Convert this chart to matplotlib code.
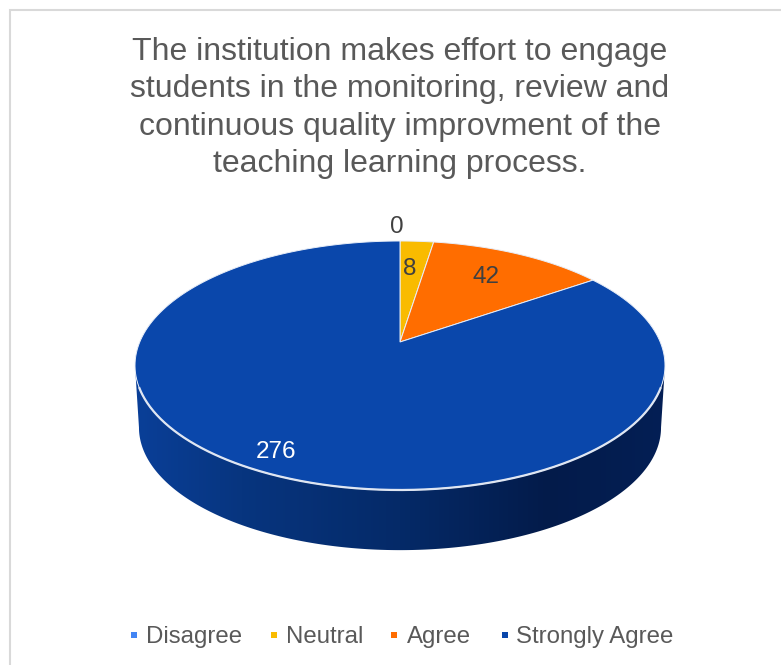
import numpy as np
import matplotlib
matplotlib.use('Agg')
import matplotlib.pyplot as plt
from matplotlib.patches import Polygon, Rectangle
from matplotlib.colors import LinearSegmentedColormap

plt.rcParams['font.family'] = ['Liberation Sans', 'DejaVu Sans']

title = 'The institution makes effort to engage\nstudents in the monitoring, review and\ncontinuous quality improvment of the\nteaching learning process.'
categories = ['Disagree', 'Neutral', 'Agree', 'Strongly Agree']
values = [0, 8, 42, 276]
colors = ['#4285f4', '#f9bb00', '#ff6d00', '#0a47ab']
label_colors = ['#404040', '#404040', '#404040', '#ffffff']

# pie geometry in pixels, the disc is tilted so the apex sits above the ellipse centre
W, H = 781, 665
cx, apex_y = 400, 342
back, front = 101, 148
half_w = 265
depth = 62
k = (front - back) / (front + back)
b0 = back * (1 + k)
a0 = half_w * np.sqrt(1 - k ** 2)


def project(ang):
    # ang is clockwise from 12 o'clock, on the unit disc
    X, Y = np.sin(ang), np.cos(ang)
    d = 1 + k * Y
    return cx + a0 * X / d, apex_y - b0 * Y / d


def wedge(a1, a2):
    t = np.linspace(a1, a2, 200)
    x, y = project(t)
    return np.column_stack([np.r_[cx, x], np.r_[apex_y, y]])


fig = plt.figure(figsize=(W / 100, H / 100), dpi=100)
ax = fig.add_axes([0, 0, 1, 1])
ax.set_xlim(0, W)
ax.set_ylim(H, 0)
ax.axis('off')

ax.add_patch(Rectangle((10, 10), W + 20, H + 20, fc='white', ec='#d9d9d9', lw=1.5))

# side wall: front arc of the top face and the same arc moved down
t = np.linspace(0, 2 * np.pi, 721)
ex, ey = project(t)
ell_cy = (ey.min() + ey.max()) / 2
s = 0.985

tt = np.linspace(-np.pi / 2, np.pi / 2, 361)
ux = cx + half_w * np.sin(tt)
uy = ell_cy + (back + front) / 2 * np.cos(tt)
dx = cx + half_w * s * np.sin(tt)
dy = ell_cy + depth + (back + front) / 2 * s * np.cos(tt)
side = Polygon(np.column_stack([np.r_[ux, dx[::-1]], np.r_[uy, dy[::-1]]]),
               closed=True, fc='none', ec='none', transform=ax.transData)
ax.add_patch(side)
side_cmap = LinearSegmentedColormap.from_list('side', [(0, '#0a3f98'), (0.2, '#07357f'), (0.5, '#052a68'),
                                                       (0.78, '#031b4a'), (1, '#041f55')])
im = ax.imshow(np.linspace(0, 1, 256)[None, :], cmap=side_cmap, aspect='auto',
               extent=[cx - half_w, cx + half_w, H, 0], zorder=2)
im.set_clip_path(side)
ax.set_xlim(0, W)
ax.set_ylim(H, 0)

# top face
cum = np.cumsum([0] + values) / sum(values) * 2 * np.pi
for i, v in enumerate(values):
    if v == 0:
        continue
    ax.add_patch(Polygon(wedge(cum[i], cum[i + 1]), closed=True, fc=colors[i], ec='#e8eef8', lw=0.7, zorder=3))

# light rim along the front of the disc
rim = (uy > ell_cy + 22)
ax.plot(ux[rim], uy[rim], color='#dfe6f2', lw=1.6, zorder=4)

# data labels
label_pos = [(397, 227), (410, 269), (486, 277), (276, 452)]
for v, c, (px, py) in zip(values, label_colors, label_pos):
    ax.text(px, py, str(v), color=c, fontsize=17.5, ha='center', va='center', zorder=5)

ax.text(400, 108, title, color='#595959', fontsize=23, ha='center', va='center', linespacing=1.315)

# legend
leg_sq = [134, 274, 394, 505]
leg_txt = [146, 286, 407, 516]
for i, name in enumerate(categories):
    ax.add_patch(Rectangle((leg_sq[i] - 3, 632), 6, 6, fc=colors[i], ec='none'))
    ax.text(leg_txt[i], 637, name, color='#595959', fontsize=17.3, ha='left', va='center')

fig.savefig('out.png', dpi=100)
